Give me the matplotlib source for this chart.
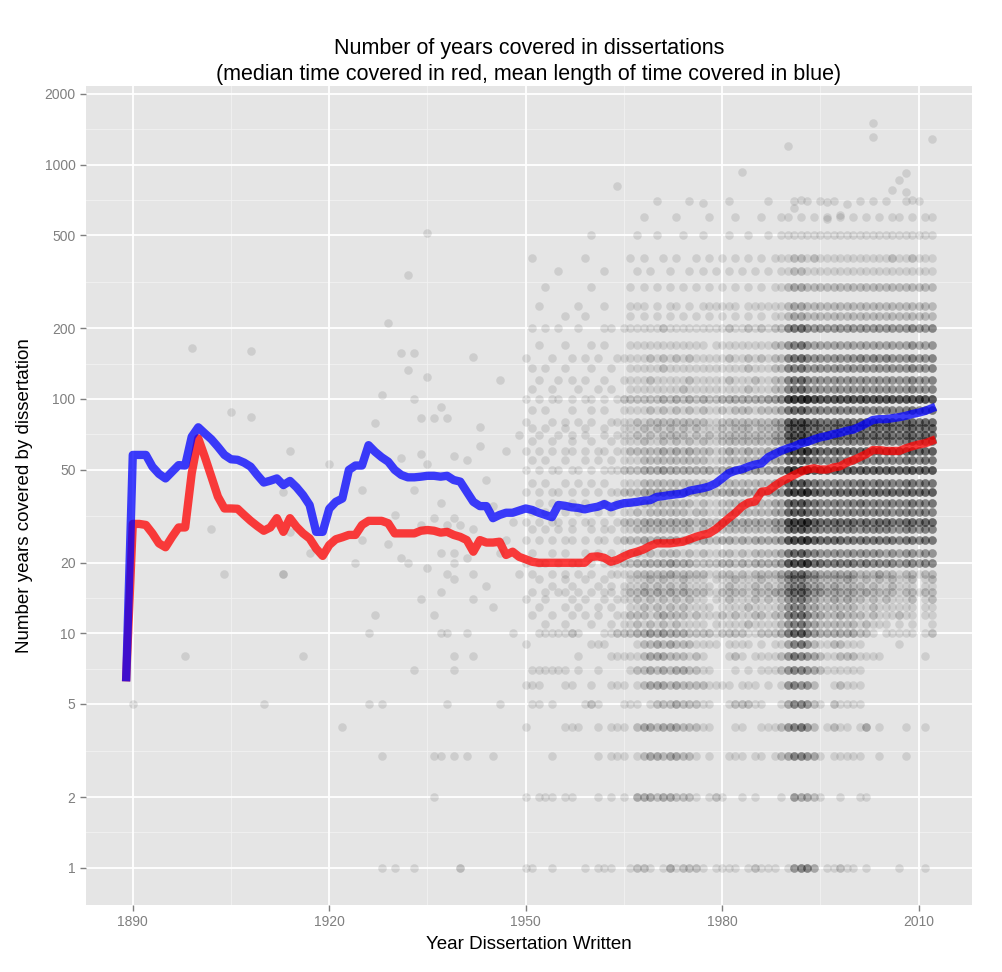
import numpy as np
import matplotlib
matplotlib.use("Agg")
import matplotlib.pyplot as plt

plt.rcParams['font.family'] = ['Liberation Sans', 'DejaVu Sans']

# yearly summary lines
years = list(range(1889, 2013))
mean_years = [
    6.5,
    57.7, 57.7, 57.7, 51.4, 47.9, 45.8, 48.9, 52.2, 52.0, 69.0,
    75.7, 71.3, 67.3, 62.5, 57.7, 55.3, 55.0, 53.5, 51.4, 47.4,
    44.0, 44.8, 45.8, 42.9, 44.7, 42.0, 38.9, 35.3, 27.1, 27.1,
    34.0, 36.4, 37.6, 49.8, 52.0, 52.0, 63.5, 59.5, 56.4, 54.0,
    49.8, 47.4, 46.3, 46.3, 46.6, 47.0, 47.0, 46.6, 47.0, 45.1,
    44.4, 40.2, 36.4, 34.9, 34.9, 31.0, 32.0, 32.7, 32.7, 33.4,
    34.1, 33.6, 32.7, 32.0, 31.3, 35.3, 35.0, 34.5, 34.3, 33.8,
    34.3, 34.7, 35.6, 34.5, 35.3, 35.9, 36.1, 36.4, 36.8, 37.0,
    38.2, 38.5, 38.9, 39.2, 39.5, 40.6, 41.1, 41.6, 42.3, 43.6,
    45.8, 48.2, 49.4, 50.1, 51.4, 52.5, 53.1, 56.4, 58.2, 60.1,
    61.5, 62.8, 64.6, 65.6, 67.2, 68.6, 69.5, 70.8, 71.7, 73.1,
    74.0, 76.1, 78.6, 81.3, 82.0, 82.0, 82.8, 83.6, 84.7, 86.2,
    87.4, 88.9, 91.2,
]
median_years = [
    6.5,
    29.3, 29.3, 29.0, 26.7, 24.2, 23.3, 25.8, 28.3, 28.3, 48.2,
    67.9, 56.6, 46.6, 38.3, 34.1, 34.1, 34.0, 32.0, 30.2, 28.7,
    27.4, 28.3, 31.0, 27.1, 31.0, 28.5, 26.7, 25.4, 23.0, 21.4,
    23.8, 25.2, 25.7, 26.3, 26.3, 29.0, 30.2, 30.2, 30.2, 29.5,
    26.7, 26.7, 26.7, 26.7, 27.4, 27.6, 27.4, 26.9, 27.1, 26.3,
    25.8, 25.0, 22.3, 25.0, 24.4, 24.4, 24.6, 21.6, 22.3, 21.2,
    20.7, 20.2, 20.0, 20.0, 20.0, 20.0, 20.0, 20.0, 20.0, 20.0,
    21.2, 21.3, 21.0, 20.2, 20.6, 21.3, 21.9, 22.3, 22.8, 23.6,
    24.2, 24.2, 24.2, 24.4, 24.6, 25.2, 25.8, 26.3, 26.7, 27.8,
    29.3, 31.0, 32.6, 34.7, 36.1, 36.5, 40.2, 40.5, 42.5, 44.4,
    45.8, 47.4, 48.9, 50.0, 50.6, 50.0, 50.0, 51.0, 51.6, 53.5,
    54.8, 56.4, 58.2, 60.5, 60.5, 60.0, 60.0, 60.0, 61.5, 62.8,
    63.9, 64.7, 66.3,
]

# individual dissertations before 1950 and the high outliers
sparse_year = [1890, 1898, 1899, 1902, 1904, 1905, 1908, 1908, 1910, 1913, 1913, 1913,
               1914, 1914, 1916, 1917, 1920, 1922, 1924, 1925, 1925, 1926, 1926, 1927,
               1927, 1928, 1928, 1928, 1928, 1929, 1929, 1930, 1930, 1931, 1931, 1931,
               1932, 1932, 1932, 1933, 1933, 1933, 1933, 1933, 1934, 1934, 1934, 1934,
               1935, 1935, 1935, 1935, 1936, 1936, 1936, 1936, 1936, 1937, 1937, 1937,
               1937, 1937, 1937, 1938, 1938, 1938, 1938, 1938, 1939, 1939, 1939, 1939,
               1939, 1939, 1939, 1939, 1940, 1940, 1940, 1941, 1941, 1941, 1941, 1942,
               1942, 1942, 1942, 1942, 1943, 1943, 1945, 1945, 1946, 1944, 1945, 1946,
               1947, 1947, 1948, 1948, 1949, 1949, 1944, 1946,
               2003, 2003, 2012, 1990, 1983, 1964, 1977, 2008, 2007, 2006, 2008, 2009,
               1992, 1991, 1996, 1999, 1998, 1996]
sparse_val = [5, 8, 165, 28, 18, 88, 84, 160, 5, 40, 18, 18,
              27, 60, 8, 22, 53, 4, 20, 25, 41, 10, 5, 12,
              79, 5, 3, 1, 104, 24, 211, 32, 1, 21, 157, 56,
              20, 133, 337, 41, 7, 1, 157, 100, 29, 14, 83, 58,
              19, 124, 53, 509, 31, 12, 3, 2, 83, 36, 22, 15,
              10, 3, 92, 29, 18, 10, 5, 83, 31, 22, 20, 17,
              8, 7, 3, 57, 29, 1, 1, 21, 10, 3, 55, 28,
              18, 14, 8, 151, 76, 63, 13, 3, 5, 45, 35, 120,
              25, 60, 10, 30, 18, 70, 16, 22,
              1500, 1310, 1290, 1200, 930, 810, 685, 920, 860, 780, 760, 705,
              705, 650, 690, 680, 610, 585]

# counts per year 1950-2012 for each value level (0-9, then a=10, b=11, ...)
grid_years = list(range(1950, 2013))
grid_levels = [1, 2, 3, 4, 5, 6, 7, 8, 9, 10,
               11, 12, 13, 14, 15, 16, 17, 18, 20, 22,
               25, 28, 30, 33, 36, 40, 44, 50, 55, 60,
               66, 70, 75, 80, 90, 100, 110, 120, 135, 150,
               170, 200, 225, 250, 300, 350, 400, 500, 600, 700]
grid_rows = [
    "110010000101110 012210131222101 1110121110 1455301121 1010000100010",
    "101110110001010 103332332221012 1001010001 0433210010 0110000000000",
    "000010000001011 101233233221010 0111011012 3554310111 1100100010000",
    "100000111001011 102332333222110 0011001112 4564201211 0130100010010",
    "011010000121000 111012223222110 0122211001 3554210211 1100000000000",
    "111000110010011 101233323222211 1101110101 4544200121 1100000000000",
    "011111101001000 012232323322110 0010101112 4554321111 1100000000000",
    "000000001000011 111233322212100 0121011112 4654321122 2111100000010",
    "100000000011100 001223232221111 0111101011 3564211221 1100000100000",
    "001111121000112 223343433322221 2222112223 6896433333 3221011111012",
    "000100100010010 112121212111101 1111211112 4564322222 2121110101001",
    "010010010101001 122212322212111 2121122122 5675332232 2212111211011",
    "001000101001010 011212121211110 1111211112 4553322222 2112111111011",
    "100100010100101 112121212121101 1211121212 4564322323 2212121112012",
    "010101101010110 122323232322211 2222122233 6786443333 3232222122122",
    "000010010001010 111212121211110 1211121212 4564332322 2212112111011",
    "001000100100100 011121211211101 1121112112 4553322223 2121212112012",
    "010010101010011 112222232222211 2212122223 5675433333 3222322122122",
    "101101011010111 223333343332222 3323233334 9abc776666 6565555455455",
    "010010100101010 112121222121211 2212122223 6786544444 4444434344344",
    "101010110101101 222323333232322 3323233334 9abc877776 6666666566566",
    "010101010010110 112222222221211 2222222233 7897655555 5455554455455",
    "101011010110101 222333333332322 3333333344 abcd877777 7676776677677",
    "010100101001010 112122222212211 2222222233 7897655555 5555554555555",
    "001010010100101 111222222221211 2222222233 7897655555 5655555556556",
    "101011010101011 222333333333322 3333333344 abcd877777 7777777777778",
    "010100101010100 111222222222211 2222222233 7897655555 5655655566566",
    "101011011010111 222333433333332 3434343445 bcde988888 8888888889889",
    "010100100101010 111222222222211 2222222233 7897655555 5555655566566",
    "101010110101101 122222323232221 2322322334 9abc877777 7777777778778",
    "010010010010010 111211212121211 2222222233 6786555555 5555555556556",
    "001001010100101 112121222212121 2222222233 89a8766666 6767676677677",
    "010100100100100 111212121212111 2122212223 7897666666 6666666667667",
    "100010101010011 112122222222211 2222222233 89a8766666 6767676677677",
    "010100010010100 111121212121211 2122212223 6786555555 5555555556556",
    "101011010110101 222222323232322 3333333445 bcdea99999 9999999999a99",
    "010010001001010 011111111211111 1111211122 5675444444 4444444445445",
    "001001010100100 111121111121111 1211121122 5675444444 4444444445445",
    "010100100010010 011111211111111 1111211122 5564444444 4444444445445",
    "100010010101001 111121212121111 1211212122 5675444444 4545454445445",
    "001000100010100 011111111111101 1111111122 4564333333 3333333334334",
    "010101001000110 111111211111111 1211212122 5675444444 4444444445445",
    "000000100100000 010101010101010 1010101011 2332222222 2222222222222",
    "001000001000100 011101011010111 1110111111 2332222222 2222222222222",
    "000100000010000 010101010101010 1010101011 2332222222 2222222222222",
    "000001000000100 001010010010101 0101010101 1221111111 1111111111111",
    "010000000100000 010100101001010 1010101011 1221211111 1111112112111",
    "000000000010000 001001000100100 0100100101 1111111111 1111111111111",
    "000000000000000 000100001000010 0010001001 1010101010 1010101101011",
    "000000000000000 000001000010000 0100000100 0101010100 0101010010100",
]

pts_x = list(sparse_year)
pts_y = list(sparse_val)
for level, row in zip(grid_levels, grid_rows):
    row = row.replace(" ", "")
    assert len(row) == len(grid_years), (level, len(row))
    for yr, ch in zip(grid_years, row):
        n = int(ch, 36)
        pts_x += [yr] * n
        pts_y += [level] * n

fig = plt.figure(figsize=(10.03, 9.72), dpi=100)
ax = fig.add_axes([0.0857, 0.0689, 0.8834, 0.8426])
ax.set_facecolor('#e5e5e5')
for s in ax.spines.values():
    s.set_visible(False)

ax.set_yscale('log')
ax.set_xlim(1882.85, 2018.15)
ax.set_ylim(10 ** -0.159, 10 ** 3.335)

# grid like ggplot's grey theme
for xm in [1905, 1935, 1965, 1995]:
    ax.axvline(xm, color='#f2f2f2', lw=0.6, zorder=0)
for ym in [1.414, 3.162, 7.07, 14.14, 31.62, 70.7, 141.4, 316.2, 707, 1414]:
    ax.axhline(ym, color='#f2f2f2', lw=0.6, zorder=0)
xt = [1890, 1920, 1950, 1980, 2010]
yt = [1, 2, 5, 10, 20, 50, 100, 200, 500, 1000, 2000]
for xv in xt:
    ax.axvline(xv, color='white', lw=1.3, zorder=0)
for yv in yt:
    ax.axhline(yv, color='white', lw=1.3, zorder=0)

ax.scatter(pts_x, pts_y, s=38, c='black', alpha=0.1, linewidths=0, zorder=2)

ax.plot(years, median_years, color='#ff0000', alpha=0.75, lw=6, zorder=3,
        solid_joinstyle='round')
ax.plot(years, mean_years, color='#0000ff', alpha=0.75, lw=6, zorder=4,
        solid_joinstyle='round')

ax.set_xticks(xt)
ax.set_xticklabels([str(v) for v in xt])
ax.set_yticks(yt)
ax.set_yticklabels([str(v) for v in yt])
ax.minorticks_off()
ax.tick_params(axis='both', colors='#7f7f7f', labelcolor='#7f7f7f', labelsize=10,
               length=4, width=1)

ax.set_xlabel('Year Dissertation Written', fontsize=13.5, color='black', labelpad=5)
ax.set_ylabel('Number years covered by dissertation', fontsize=13.5, color='black',
              labelpad=8)
ax.set_title('Number of years covered in dissertations\n'
             '(median time covered in red, mean length of time covered in blue)',
             fontsize=15.5, color='black', pad=4.5, linespacing=1.28)

fig.savefig('out.png', dpi=100)
